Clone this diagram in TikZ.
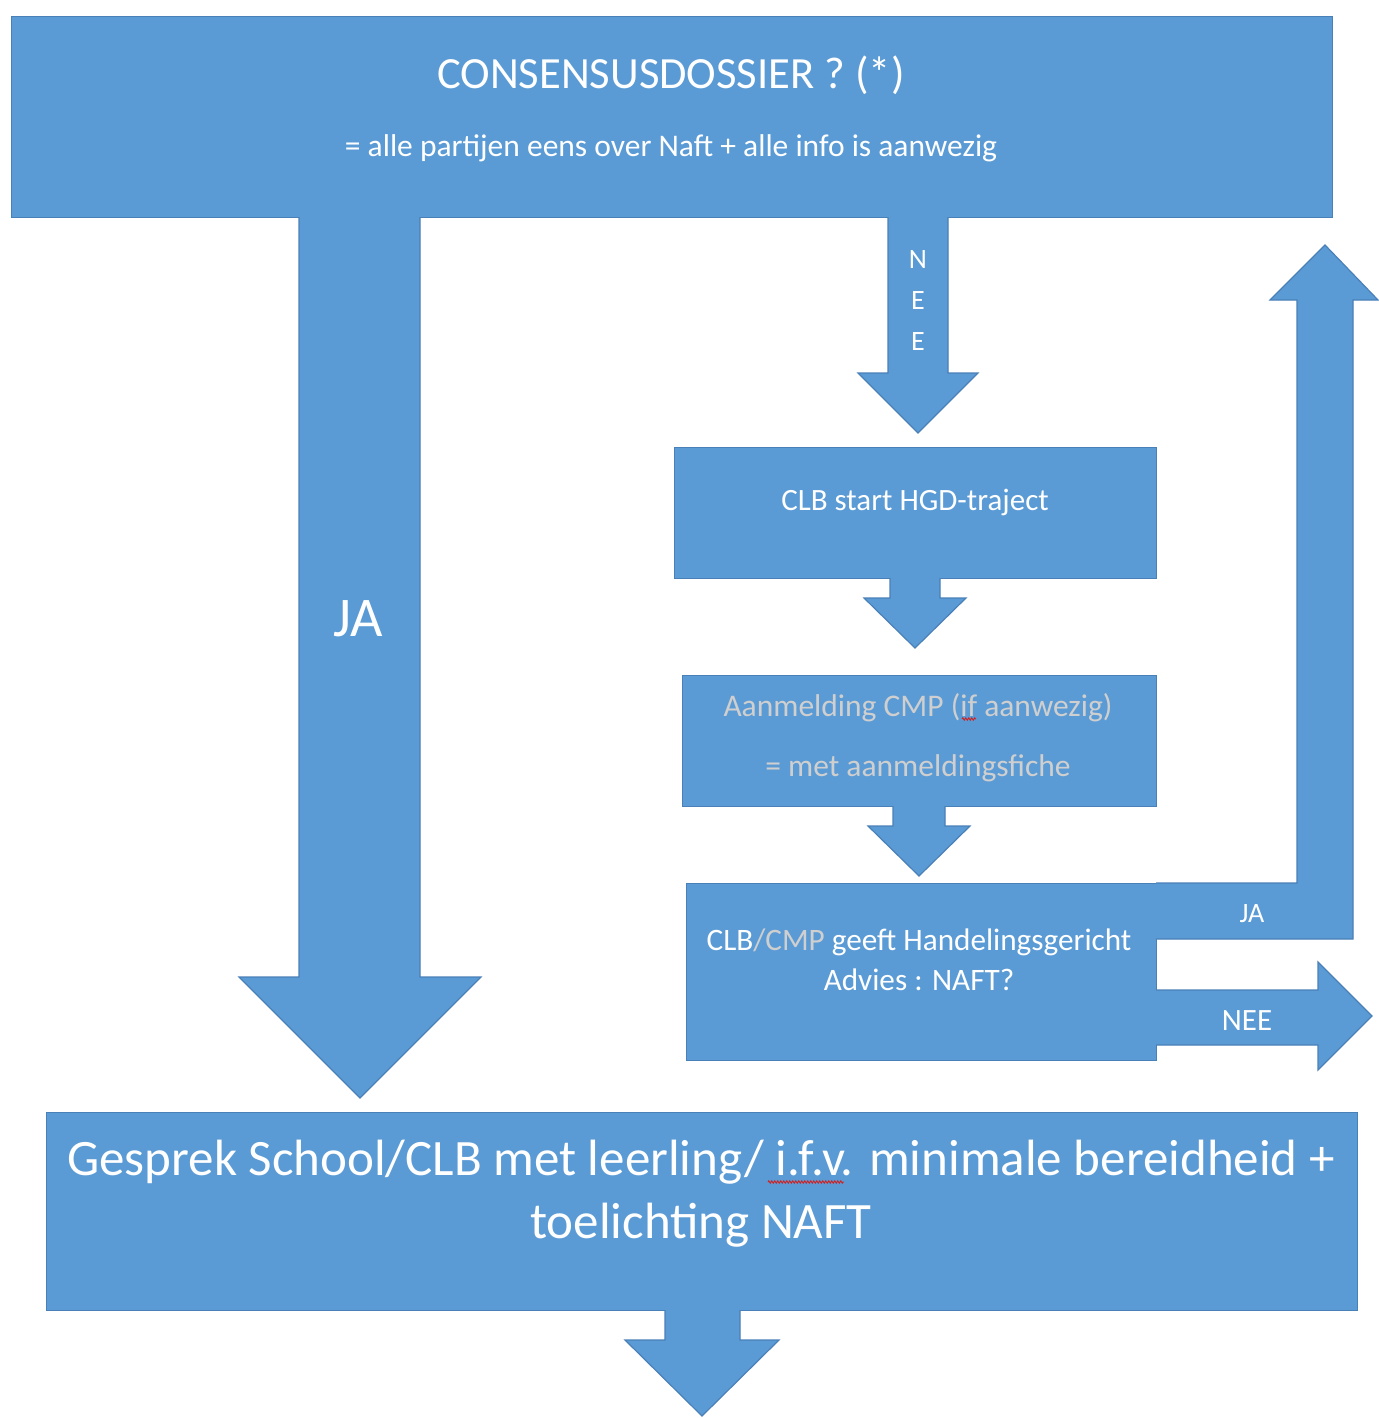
\documentclass[tikz,border=0pt]{standalone}
\usepackage{fontspec}
\setmainfont{Carlito}
\usetikzlibrary{decorations.pathmorphing}
\definecolor{fillblue}{HTML}{5B9BD5}
\definecolor{lineblue}{HTML}{4A80B8}
\definecolor{softgray}{HTML}{CFCFCF}
\definecolor{spellred}{HTML}{D02020}
\tikzset{
  box/.style={fill=fillblue, draw=lineblue, line width=1.2pt, anchor=north west, inner sep=0pt},
  blockarrow/.style={fill=fillblue, draw=lineblue, line width=1.2pt, line join=miter},
  lbl/.style={text=white, inner sep=0pt, anchor=base},
  wavy/.style={draw=spellred, line width=0.9pt, decorate, decoration={zigzag, segment length=3pt, amplitude=1.2pt}},
}
\newcommand{\fsz}[1]{\fontsize{#1}{#1}\selectfont}
\begin{document}
\begin{tikzpicture}[x=1pt,y=-1pt]
\useasboundingbox[fill=white] (0,0) rectangle (1378,1418);

% boxes
\node[box, minimum width=1321pt, minimum height=201pt] (top) at (11,16) {};
\node[box, minimum width=482pt, minimum height=131pt] (hgd) at (674,447) {};
\node[box, minimum width=474pt, minimum height=131pt] (aanm) at (682,675) {};
\node[box, minimum width=470pt, minimum height=177pt] (advies) at (686,883) {};
\node[box, minimum width=1311pt, minimum height=198pt] (gesprek) at (46,1112) {};

% block arrows (open paths: the side touching a box is not stroked)
\filldraw[blockarrow] (299,217) -- (299,977) -- (239,977) -- (360,1098) -- (481,977) -- (420,977) -- (420,217);
\filldraw[blockarrow] (888,217) -- (888,373) -- (858,373) -- (918,433) -- (978,373) -- (948,373) -- (948,217);
\filldraw[blockarrow] (890,578) -- (890,598) -- (864,598) -- (915,648) -- (966,598) -- (940,598) -- (940,578);
\filldraw[blockarrow] (893,806) -- (893,826) -- (868,826) -- (919,876) -- (970,826) -- (945,826) -- (945,806);
\filldraw[blockarrow] (1156,883) -- (1297,883) -- (1297,300) -- (1270,300) -- (1325,245) -- (1378,300) -- (1353,300) -- (1353,939) -- (1156,939);
\filldraw[blockarrow] (1156,990) -- (1318,990) -- (1318,962) -- (1372,1016) -- (1318,1070) -- (1318,1045) -- (1156,1045);
\filldraw[blockarrow] (665,1310) -- (665,1340) -- (625,1340) -- (702,1416) -- (779,1340) -- (740,1340) -- (740,1310);

% texts
\node[lbl, font=\fsz{44.6}] (t1) at (671,89) {CONSENSUSDOSSIER ? (*)};
\node[lbl, font=\fsz{31.5}] (t2) at (671,157) {= alle partijen eens over Naft + alle info is aanwezig};
\node[lbl, font=\fsz{56}] (ja1) at (358,636) {JA};
\node[lbl, font=\fsz{28}] (n1) at (918,268) {N};
\node[lbl, font=\fsz{28}] (n2) at (918,309) {E};
\node[lbl, font=\fsz{28}] (n3) at (918,350) {E};
\node[lbl, font=\fsz{31}] (t3) at (915,510) {CLB start HGD-traject};
\node[lbl, font=\fsz{31.5}, text=softgray] (t4) at (918,716) {Aanmelding CMP (if aanwezig)};
\node[lbl, font=\fsz{31.5}, text=softgray] (t5) at (918,776) {= met aanmeldingsfiche};
\node[lbl, font=\fsz{31.2}] (t6) at (919,950) {CLB\textcolor{softgray}{/CMP} geeft Handelingsgericht};
\node[lbl, font=\fsz{31.2}] (t7) at (919,990) {Advies : NAFT?};
\node[lbl, font=\fsz{28}] (ja2) at (1252,922) {JA};
\node[lbl, font=\fsz{31}] (nee2) at (1247,1030) {NEE};
\node[lbl, font=\fsz{51}] (t8) at (701,1175) {Gesprek School/CLB met leerling/ i.f.v. minimale bereidheid +};
\node[lbl, font=\fsz{51}] (t9) at (701,1238) {toelichting NAFT};

% spell-check marks
\draw[wavy] (962,719) -- (976,719);
\draw[wavy] (768,1182) -- (844,1182);
\end{tikzpicture}
\end{document}
